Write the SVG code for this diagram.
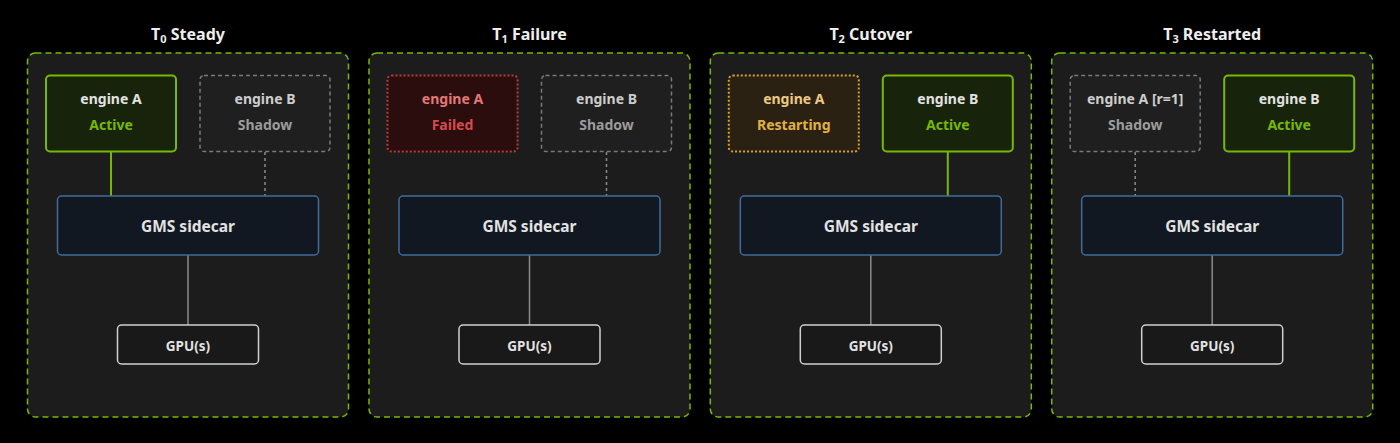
<svg xmlns="http://www.w3.org/2000/svg" width="1400" height="443" viewBox="0 0 1400 443">
<style>
text{font-family:"Noto Sans","Open Sans","Liberation Sans",sans-serif;font-weight:700;text-anchor:middle}
.title{font-size:16px;fill:#eeeeee}
.sub{font-size:11px}
.panel{fill:#1c1c1c;stroke:#76b900;stroke-width:1.5;stroke-dasharray:6 4}
.eng{font-size:14px}
.active{fill:#17230b;stroke:#76b900;stroke-width:2}
.shadow{fill:#1f1f1f;stroke:#7a7a7a;stroke-width:1.5;stroke-dasharray:4 3}
.failed{fill:#2b0d0d;stroke:#b43c3c;stroke-width:2;stroke-dasharray:2 2}
.restart{fill:#2a2112;stroke:#d6a226;stroke-width:2;stroke-dasharray:2 2}
.sidecar{fill:#111821;stroke:#3f6c9c;stroke-width:1.5}
.gpu{fill:#191919;stroke:#cfcfcf;stroke-width:1.5}
.scl{font-size:15.5px;fill:#e2e2e2}
.gpl{font-size:13.5px;fill:#e2e2e2}
.tw{fill:#e2e2e2}
.tg{fill:#76b900}
.ts1{fill:#cdcdcd}
.ts2{fill:#9c9c9c}
.tf1{fill:#e27878}
.tf2{fill:#d64b4b}
.tr1{fill:#ecc983}
.tr2{fill:#e0b042}
.lact{stroke:#76b900;stroke-width:2;fill:none}
.lsh{stroke:#8a8a8a;stroke-width:1.5;stroke-dasharray:3 3;fill:none}
.lgpu{stroke:#8a8a8a;stroke-width:1.5;fill:none}
</style>
<rect x="0" y="0" width="1400" height="443" fill="#000000"/>

<g id="panel-t0" transform="translate(27.5,0)">
  <text class="title" x="160.5" y="40">T<tspan class="sub" dy="3">0</tspan><tspan dy="-3"> Steady</tspan></text>
  <rect class="panel" x="0" y="53" width="321" height="364" rx="8"/>
</g>
<g id="panel-t1" transform="translate(369,0)">
  <text class="title" x="160.5" y="40">T<tspan class="sub" dy="3">1</tspan><tspan dy="-3"> Failure</tspan></text>
  <rect class="panel" x="0" y="53" width="321" height="364" rx="8"/>
</g>
<g id="panel-t2" transform="translate(710.3,0)">
  <text class="title" x="160.5" y="40">T<tspan class="sub" dy="3">2</tspan><tspan dy="-3"> Cutover</tspan></text>
  <rect class="panel" x="0" y="53" width="321" height="364" rx="8"/>
</g>
<g id="panel-t3" transform="translate(1051.7,0)">
  <text class="title" x="160.5" y="40">T<tspan class="sub" dy="3">3</tspan><tspan dy="-3"> Restarted</tspan></text>
  <rect class="panel" x="0" y="53" width="321" height="364" rx="8"/>
</g>

<g id="connectors">
  <g transform="translate(27.5,0)">
    <line class="lact" x1="83.5" y1="152" x2="83.5" y2="196"/>
    <line class="lsh" x1="237.5" y1="152" x2="237.5" y2="196"/>
    <line class="lgpu" x1="160.5" y1="255" x2="160.5" y2="325"/>
  </g>
  <g transform="translate(369,0)">
    <line class="lsh" x1="237.5" y1="152" x2="237.5" y2="196"/>
    <line class="lgpu" x1="160.5" y1="255" x2="160.5" y2="325"/>
  </g>
  <g transform="translate(710.3,0)">
    <line class="lact" x1="237.5" y1="152" x2="237.5" y2="196"/>
    <line class="lgpu" x1="160.5" y1="255" x2="160.5" y2="325"/>
  </g>
  <g transform="translate(1051.7,0)">
    <line class="lsh" x1="83.5" y1="152" x2="83.5" y2="196"/>
    <line class="lact" x1="237.5" y1="152" x2="237.5" y2="196"/>
    <line class="lgpu" x1="160.5" y1="255" x2="160.5" y2="325"/>
  </g>
</g>

<g id="t0-engine-a" transform="translate(27.5,0)">
  <rect class="active" x="18.5" y="75.5" width="130" height="76" rx="4"/>
  <text class="eng tw" x="83.5" y="104">engine A</text>
  <text class="eng tg" x="83.5" y="130">Active</text>
</g>
<g id="t0-engine-b" transform="translate(27.5,0)">
  <rect class="shadow" x="172.5" y="75.5" width="130" height="76" rx="4"/>
  <text class="eng ts1" x="237.5" y="104">engine B</text>
  <text class="eng ts2" x="237.5" y="130">Shadow</text>
</g>
<g id="t0-sidecar" transform="translate(27.5,0)">
  <rect class="sidecar" x="30" y="196" width="261" height="59" rx="4"/>
  <text class="scl" x="160.5" y="231.5">GMS sidecar</text>
</g>
<g id="t0-gpu" transform="translate(27.5,0)">
  <rect class="gpu" x="90" y="325" width="141" height="39" rx="4"/>
  <text class="gpl" x="160.5" y="350.5">GPU(s)</text>
</g>

<g id="t1-engine-a" transform="translate(369,0)">
  <rect class="failed" x="18.5" y="75.5" width="130" height="76" rx="4"/>
  <text class="eng tf1" x="83.5" y="104">engine A</text>
  <text class="eng tf2" x="83.5" y="130">Failed</text>
</g>
<g id="t1-engine-b" transform="translate(369,0)">
  <rect class="shadow" x="172.5" y="75.5" width="130" height="76" rx="4"/>
  <text class="eng ts1" x="237.5" y="104">engine B</text>
  <text class="eng ts2" x="237.5" y="130">Shadow</text>
</g>
<g id="t1-sidecar" transform="translate(369,0)">
  <rect class="sidecar" x="30" y="196" width="261" height="59" rx="4"/>
  <text class="scl" x="160.5" y="231.5">GMS sidecar</text>
</g>
<g id="t1-gpu" transform="translate(369,0)">
  <rect class="gpu" x="90" y="325" width="141" height="39" rx="4"/>
  <text class="gpl" x="160.5" y="350.5">GPU(s)</text>
</g>

<g id="t2-engine-a" transform="translate(710.3,0)">
  <rect class="restart" x="18.5" y="75.5" width="130" height="76" rx="4"/>
  <text class="eng tr1" x="83.5" y="104">engine A</text>
  <text class="eng tr2" x="83.5" y="130">Restarting</text>
</g>
<g id="t2-engine-b" transform="translate(710.3,0)">
  <rect class="active" x="172.5" y="75.5" width="130" height="76" rx="4"/>
  <text class="eng tw" x="237.5" y="104">engine B</text>
  <text class="eng tg" x="237.5" y="130">Active</text>
</g>
<g id="t2-sidecar" transform="translate(710.3,0)">
  <rect class="sidecar" x="30" y="196" width="261" height="59" rx="4"/>
  <text class="scl" x="160.5" y="231.5">GMS sidecar</text>
</g>
<g id="t2-gpu" transform="translate(710.3,0)">
  <rect class="gpu" x="90" y="325" width="141" height="39" rx="4"/>
  <text class="gpl" x="160.5" y="350.5">GPU(s)</text>
</g>

<g id="t3-engine-a" transform="translate(1051.7,0)">
  <rect class="shadow" x="18.5" y="75.5" width="130" height="76" rx="4"/>
  <text class="eng ts1" x="83.5" y="104">engine A [r=1]</text>
  <text class="eng ts2" x="83.5" y="130">Shadow</text>
</g>
<g id="t3-engine-b" transform="translate(1051.7,0)">
  <rect class="active" x="172.5" y="75.5" width="130" height="76" rx="4"/>
  <text class="eng tw" x="237.5" y="104">engine B</text>
  <text class="eng tg" x="237.5" y="130">Active</text>
</g>
<g id="t3-sidecar" transform="translate(1051.7,0)">
  <rect class="sidecar" x="30" y="196" width="261" height="59" rx="4"/>
  <text class="scl" x="160.5" y="231.5">GMS sidecar</text>
</g>
<g id="t3-gpu" transform="translate(1051.7,0)">
  <rect class="gpu" x="90" y="325" width="141" height="39" rx="4"/>
  <text class="gpl" x="160.5" y="350.5">GPU(s)</text>
</g>
</svg>
